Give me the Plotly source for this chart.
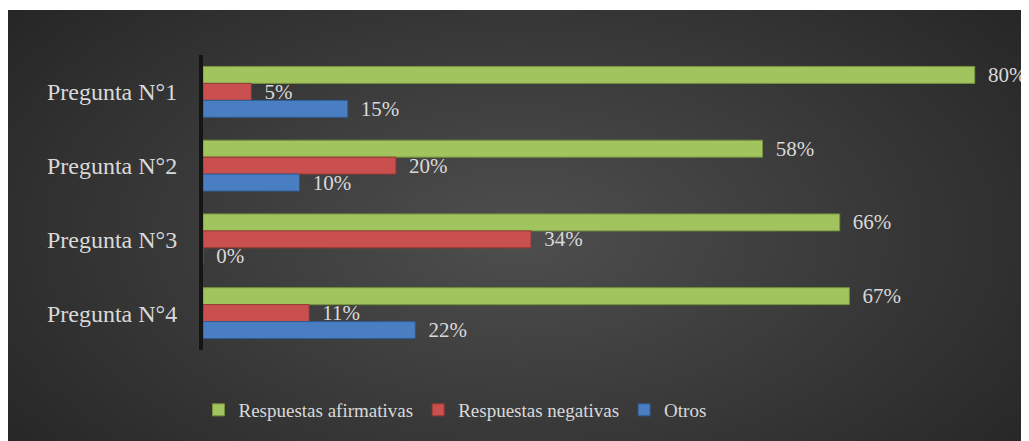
import plotly.graph_objects as go

categories = ["Pregunta N°1", "Pregunta N°2", "Pregunta N°3", "Pregunta N°4"]
afirmativas = [80, 58, 66, 67]
negativas = [5, 20, 34, 11]
otros = [15, 10, 0, 22]
series_names = ["Respuestas afirmativas", "Respuestas negativas", "Otros"]

# page has an 8px body margin; figure coordinates = page coordinates - 8
W, H = 1021, 433
ML, MR, MT, MB = 195, 6, 47, 91
PW, PH = W - ML - MR, H - MT - MB


def px2x(px):
    return (px - ML) / PW


def px2y(py):
    return 1 - (py - MT) / PH


FONT = "Liberation Serif, Times New Roman, serif"
TXT = "#d9d9d9"

colors = ["#a2c45f", "#c9504e", "#4a7ec2"]
lines = ["#76923c", "#953735", "#2e5c92"]
PAD = "\u2009\u2009\u200a"

fig = go.Figure()
for name, vals, c, lc in zip(series_names, [afirmativas, negativas, otros], colors, lines):
    fig.add_trace(go.Bar(
        y=categories, x=vals, name=name, orientation="h",
        marker=dict(color=c, line=dict(color=lc, width=1)),
        text=[f"{PAD}{v}%" for v in vals], textposition="outside",
        textfont=dict(family=FONT, size=21, color=TXT),
        constraintext="none", cliponaxis=False,
    ))

shapes = []
shapes.append(dict(type="rect", xref="paper", yref="paper", layer="below",
                   x0=px2x(0), x1=px2x(W + 20), y0=px2y(H + 20), y1=px2y(2),
                   fillcolor="#262626", line=dict(width=0)))
N = 40
cx, cy = 512, 227
RX, RY = 640, 360
for k in range(N):
    f = 1 - k / N
    rx, ry = RX * f, RY * f
    shapes.append(dict(type="circle", xref="paper", yref="paper", layer="below",
                       x0=px2x(cx - rx), x1=px2x(cx + rx),
                       y0=px2y(cy + ry), y1=px2y(cy - ry),
                       fillcolor="rgba(255,255,255,0.0075)", line=dict(width=0)))
shapes.append(dict(type="rect", xref="paper", yref="paper", layer="below",
                   x0=px2x(-10), x1=px2x(W + 20), y0=px2y(2), y1=px2y(-20),
                   fillcolor="white", line=dict(width=0)))
shapes.append(dict(type="rect", xref="paper", yref="paper", layer="below",
                   x0=px2x(-20), x1=px2x(0), y0=px2y(H + 20), y1=px2y(-20),
                   fillcolor="white", line=dict(width=0)))

fig.update_layout(
    width=W, height=H,
    margin=dict(l=ML, r=MR, t=MT, b=MB, pad=0),
    paper_bgcolor="white", plot_bgcolor="rgba(0,0,0,0)",
    barmode="group", bargap=0.31, bargroupgap=0,
    shapes=shapes,
    xaxis=dict(range=[0, 85], visible=False, showgrid=False, zeroline=False),
    yaxis=dict(autorange="reversed", showline=True, linecolor="#151515", linewidth=4,
               ticks="", showgrid=False, ticklabelstandoff=17,
               tickfont=dict(family=FONT, size=24, color=TXT)),
    legend=dict(orientation="h", xanchor="center", yanchor="middle",
                x=px2x(447), y=px2y(402), bgcolor="rgba(0,0,0,0)",
                font=dict(family=FONT, size=19, color=TXT),
                itemwidth=30, traceorder="normal"),
    showlegend=True,
)

fig.write_html("out.html")
